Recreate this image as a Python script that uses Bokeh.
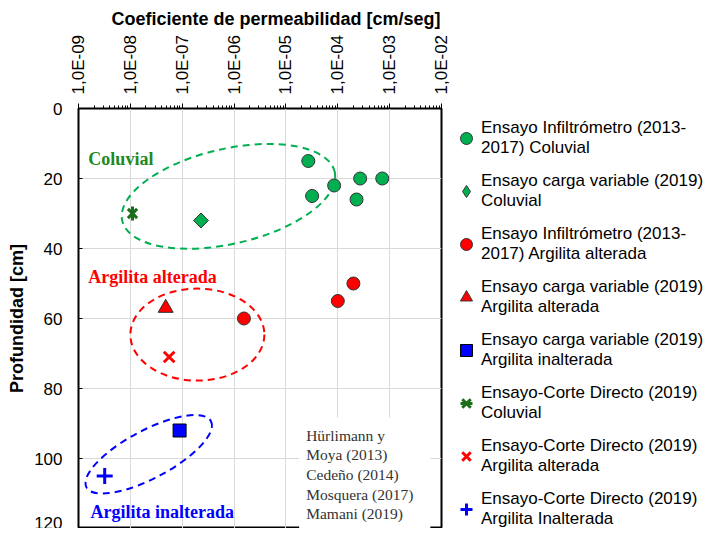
import math
from bokeh.plotting import figure
from bokeh.models import (Range1d, FixedTicker, CustomJSTickFormatter, Label,
                          Legend, LegendItem, Title)
from bokeh.embed import file_html
from bokeh.resources import INLINE

# ---------------- data ----------------
inf_col_k = [2.7e-5, 3.2e-5, 8.5e-5, 2.7e-4, 7.2e-4, 2.3e-4]
inf_col_d = [15, 25, 22, 20, 20, 26]
cv_col_k = [2.3e-7]
cv_col_d = [32]
inf_arg_k = [2.0e-4, 1.0e-4, 1.55e-6]
inf_arg_d = [50, 55, 60]
cv_arg_k = [4.8e-8]
cv_arg_d = [57]
cv_ina_k = [8.9e-8]
cv_ina_d = [92]
cd_col_k = [1.1e-8]
cd_col_d = [30]
cd_arg_k = [5.6e-8]
cd_arg_d = [71]
cd_ina_k = [3.2e-9]
cd_ina_d = [105]

x_ticks = [1e-9, 1e-8, 1e-7, 1e-6, 1e-5, 1e-4, 1e-3, 1e-2]
y_ticks = [0, 20, 40, 60, 80, 100, 120]

labels = [
    "Ensayo Infiltrómetro (2013-\n2017) Coluvial",
    "Ensayo carga variable (2019)\nColuvial",
    "Ensayo Infiltrómetro (2013-\n2017) Argilita alterada",
    "Ensayo carga variable (2019)\nArgilita alterada",
    "Ensayo carga variable (2019)\nArgilita inalterada",
    "Ensayo-Corte Directo (2019)\nColuvial",
    "Ensayo-Corte Directo (2019)\nArgilita alterada",
    "Ensayo-Corte Directo (2019)\nArgilita Inalterada",
]

GREEN = "#00B050"
DKGREEN = "#1a6e1a"
RED = "#FF0000"
BLUE = "#0000FF"

title = Title(text="Coeficiente de permeabilidad [cm/seg]", align="left",
              offset=33, text_font="Liberation Sans", text_font_size="18px",
              text_font_style="bold", text_color="black", standoff=5)

p = figure(x_axis_type="log", x_axis_location="above",
           x_range=Range1d(1e-9, 1e-2), y_range=Range1d(120, 0),
           frame_width=363, frame_height=420,
           min_border_left=0, min_border_top=0, min_border_bottom=0,
           min_border_right=0, margin=(4, 0, 0, 4), title=title,
           output_backend="svg", toolbar_location=None,
           background_fill_color="white", border_fill_color="white")

p.outline_line_color = "black"
p.outline_line_width = 2

minor = [m * t for t in x_ticks[:-1] for m in range(2, 10)]
xt = FixedTicker(ticks=x_ticks, minor_ticks=minor)
p.xaxis.ticker = xt
p.xgrid.ticker = xt
p.xaxis.formatter = CustomJSTickFormatter(code="""
const e = Math.round(Math.log10(tick));
const s = (e < 0 ? '-' : '+') + String(Math.abs(e)).padStart(2, '0');
return '1,0E' + s;
""")
p.xaxis.major_label_orientation = math.pi / 2
p.xaxis.major_tick_out = 5
p.xaxis.major_tick_in = 0
p.xaxis.minor_tick_out = 3
p.xaxis.minor_tick_in = 0
p.xaxis.major_label_standoff = 9

yt = FixedTicker(ticks=y_ticks, minor_ticks=[])
p.yaxis.ticker = yt
p.ygrid.ticker = yt
p.yaxis.axis_label = "Profundidad [cm]"
p.yaxis.major_tick_in = 4
p.yaxis.major_tick_out = 0
p.yaxis.major_label_standoff = 16
p.yaxis.axis_label_standoff = 4

for ax in (p.xaxis, p.yaxis):
    ax.axis_line_color = "black"
    ax.axis_line_width = 1
    ax.major_tick_line_color = "black"
    ax.minor_tick_line_color = "black"
    ax.major_label_text_font = "Liberation Sans"
    ax.major_label_text_font_size = "17px"
    ax.major_label_text_color = "black"
    ax.axis_label_text_font = "Liberation Sans"
    ax.axis_label_text_font_size = "18px"
    ax.axis_label_text_font_style = "bold"
    ax.axis_label_text_color = "black"

for g in (p.xgrid, p.ygrid):
    g.grid_line_color = "#d9d9d9"
    g.grid_line_width = 1

# ellipses (annotation outlines)
ell_dash = "7 5"
p.ellipse(x=[7.8e-7], y=[25.1], width=218, height=95, angle=math.radians(13),
          width_units="screen", height_units="screen",
          fill_alpha=0, line_color=GREEN, line_width=2, line_dash=ell_dash)
p.ellipse(x=[1.96e-7], y=[64.6], width=134, height=92, angle=0,
          width_units="screen", height_units="screen",
          fill_alpha=0, line_color=RED, line_width=2, line_dash=ell_dash)
p.ellipse(x=[2.26e-8], y=[98.8], width=141, height=48, angle=math.radians(28),
          width_units="screen", height_units="screen",
          fill_alpha=0, line_color=BLUE, line_width=2, line_dash=ell_dash)

# series
r1 = p.scatter(inf_col_k, inf_col_d, marker="circle", size=13,
               fill_color=GREEN, line_color="#333333", line_width=1)
r2_leg = p.scatter(cv_col_k, cv_col_d, marker="diamond", size=14,
                   fill_color=GREEN, line_color="#333333", line_width=1)
r2 = p.scatter(cv_col_k, cv_col_d, marker="square", size=10.5, angle=math.pi / 4,
               fill_color=GREEN, line_color="#333333", line_width=1)
r3 = p.scatter(inf_arg_k, inf_arg_d, marker="circle", size=13,
               fill_color=RED, line_color="#333333", line_width=1)
r4 = p.scatter(cv_arg_k, cv_arg_d, marker="triangle", size=15,
               fill_color=RED, line_color="#333333", line_width=1)
r5 = p.scatter(cv_ina_k, cv_ina_d, marker="square", size=13,
               fill_color=BLUE, line_color="black", line_width=1)
r6a = p.scatter(cd_col_k, cd_col_d, marker="x", size=13,
                line_color=DKGREEN, line_width=3)
r6b = p.scatter(cd_col_k, cd_col_d, marker="dash", size=14, angle=math.pi / 2,
                line_color=DKGREEN, line_width=3)
r7 = p.scatter(cd_arg_k, cd_arg_d, marker="x", size=15,
               line_color=RED, line_width=3)
r8 = p.scatter(cd_ina_k, cd_ina_d, marker="cross", size=16,
               line_color=BLUE, line_width=3)

renderers = [[r1], [r2_leg], [r3], [r4], [r5], [r6a, r6b], [r7], [r8]]
items = [LegendItem(label=lab, renderers=rs) for lab, rs in zip(labels, renderers)]
legend = Legend(items=items, location="top_left",
                label_text_font="Liberation Sans", label_text_font_size="17px",
                label_text_color="black", label_standoff=0,
                glyph_width=30, glyph_height=30, spacing=13,
                padding=0, margin=10, border_line_color=None,
                background_fill_alpha=0, label_text_line_height=1.0)
p.add_layout(legend, "right")

# text annotations
serif = "Liberation Serif"
p.add_layout(Label(x=1.55e-9, y=14.3, text="Coluvial", text_font=serif,
                   text_font_size="18px", text_font_style="bold",
                   text_color="#1e8a1e", text_baseline="middle"))
p.add_layout(Label(x=1.55e-9, y=48.2, text="Argilita  alterada", text_font=serif,
                   text_font_size="18px", text_font_style="bold",
                   text_color=RED, text_baseline="middle"))
p.add_layout(Label(x=1.7e-9, y=115.4, text="Argilita  inalterada", text_font=serif,
                   text_font_size="18px", text_font_style="bold",
                   text_color=BLUE, text_baseline="middle"))
p.add_layout(Label(x=1.8e-5, y=88.3,
                   text="Hürlimann y\nMoya (2013)\nCedeño (2014)\nMosquera (2017)\nMamani (2019)",
                   text_font=serif, text_font_size="15.5px", text_color="#333333",
                   text_baseline="top", text_line_height=1.16,
                   background_fill_color="white", padding=(7, 17, 9, 11)))

open("out.html", "w").write(file_html(p, INLINE))
